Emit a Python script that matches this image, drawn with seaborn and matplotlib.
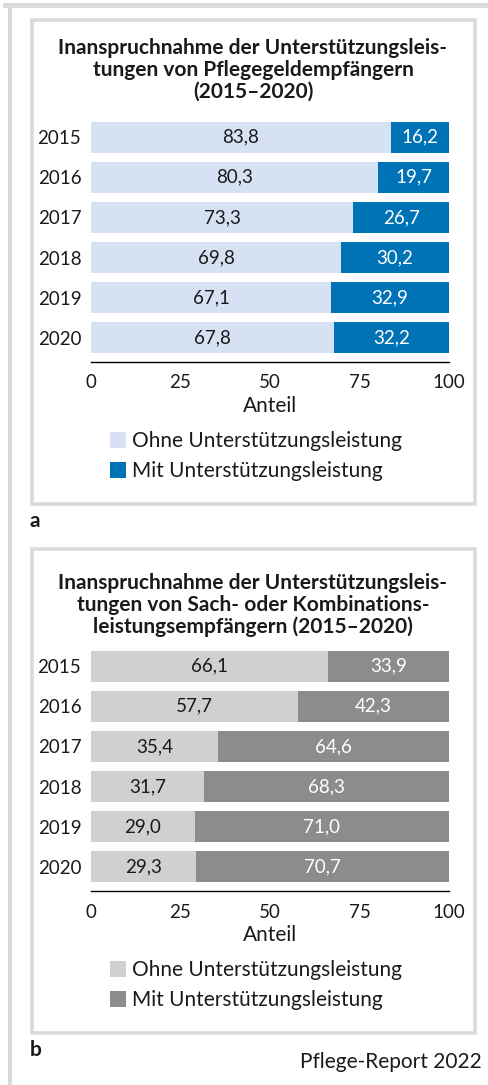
import matplotlib.pyplot as plt
import seaborn as sns
from matplotlib.patches import Rectangle

YEARS = ["2015", "2016", "2017", "2018", "2019", "2020"]
OHNE_A = [83.8, 80.3, 73.3, 69.8, 67.1, 67.8]
MIT_A = [16.2, 19.7, 26.7, 30.2, 32.9, 32.2]
OHNE_B = [66.1, 57.7, 35.4, 31.7, 29.0, 29.3]
MIT_B = [33.9, 42.3, 64.6, 68.3, 71.0, 70.7]
XTICKS = [0, 25, 50, 75, 100]

TITLE_A = "Inanspruchnahme der Unterstützungsleis-\ntungen von Pflegegeldempfängern\n(2015–2020)"
TITLE_B = ("Inanspruchnahme der Unterstützungsleis-\ntungen von Sach- oder Kombinations-\n"
           "leistungsempfängern (2015–2020)")
LEGEND = ["Ohne Unterstützungsleistung", "Mit Unterstützungsleistung"]

BLUE = ("#d6e1f3", "#0072b6")
GREY = ("#cfd0d0", "#8c8c8c")
FRAME = "#dadada"

W, H = 488, 1085
FONT_TXT = 15
FONT_NUM = 13.5
FONT_TITLE = 15


def fmt(v):
    return f"{v:.1f}".replace(".", ",")


def px_axes(fig, left, top, right, bottom):
    return fig.add_axes([left / W, 1 - bottom / H, (right - left) / W, (bottom - top) / H])


def fig_rect(fig, x0, y0, x1, y1, **kw):
    fig.add_artist(Rectangle((x0 / W, 1 - y1 / H), (x1 - x0) / W, (y1 - y0) / H,
                             transform=fig.transFigure, **kw))


def draw_panel(fig, top, title_y, title, ohne, mit, colors, letter):
    light, dark = colors
    # box
    fig_rect(fig, 31.5, top + 2, 474.5, top + 486, fill=False, edgecolor=FRAME, linewidth=2.6)
    fig.text(253 / W, 1 - title_y / H, title, ha="center", va="center", fontsize=FONT_TITLE,
             fontweight="bold", linespacing=1.1)

    ax = px_axes(fig, 91, top + 99, 449, top + 344)
    totals = [o + m for o, m in zip(ohne, mit)]
    sns.barplot(x=totals, y=YEARS, orient="h", color=dark, saturation=1, width=0.77,
                linewidth=0, ax=ax, label=LEGEND[1])
    sns.barplot(x=ohne, y=YEARS, orient="h", color=light, saturation=1, width=0.77,
                linewidth=0, ax=ax, label=LEGEND[0])
    for i, (o, m) in enumerate(zip(ohne, mit)):
        ax.text(o / 2, i, fmt(o), ha="center", va="center", fontsize=FONT_NUM, color="#1a1a1a")
        ax.text(o + m / 2, i, fmt(m), ha="center", va="center", fontsize=FONT_NUM, color="white")

    ax.set_xlim(0, 100)
    ax.set_ylim(5.6, -0.5)
    ax.set_xticks(XTICKS)
    ax.set_xlabel("Anteil", fontsize=FONT_TXT, labelpad=3)
    ax.set_ylabel("")
    for s in ["top", "right", "left"]:
        ax.spines[s].set_visible(False)
    ax.spines["bottom"].set_linewidth(1.0)
    ax.spines["bottom"].set_color("black")
    ax.tick_params(axis="x", length=5, width=1, color="black", labelsize=FONT_NUM, pad=4)
    ax.tick_params(axis="y", length=0, labelsize=FONT_NUM, pad=7)
    if ax.get_legend():
        ax.get_legend().remove()

    handles, labels = ax.get_legend_handles_labels()
    order = [labels.index(LEGEND[0]), labels.index(LEGEND[1])]
    fig.legend([handles[i] for i in order], [labels[i] for i in order],
               loc="upper left", bbox_to_anchor=(110 / W, 1 - (top + 413) / H),
               frameon=False, fontsize=FONT_TXT, handlelength=0.78, handleheight=0.78,
               handletextpad=0.3, labelspacing=0.5, borderpad=0, borderaxespad=0)

    fig.text(30 / W, 1 - (top + 503) / H, letter, ha="left", va="center", fontsize=FONT_TXT,
             fontweight="bold")


sns.set_style("white")
plt.rcParams["font.family"] = ["Lato", "DejaVu Sans"]
plt.rcParams["text.color"] = "#1a1a1a"
plt.rcParams["xtick.color"] = "#1a1a1a"
plt.rcParams["ytick.color"] = "#1a1a1a"
plt.rcParams["axes.labelcolor"] = "#1a1a1a"

fig = plt.figure(figsize=(W / 100, H / 100), dpi=100)
fig_rect(fig, 3, 3, W, 8, color=FRAME, linewidth=0)
fig_rect(fig, 8, 8, 12, H, color=FRAME, linewidth=0)

draw_panel(fig, 18, 70, TITLE_A, OHNE_A, MIT_A, BLUE, "a")
draw_panel(fig, 547, 605, TITLE_B, OHNE_B, MIT_B, GREY, "b")

fig.text(482 / W, 1 - 1062 / H, "Pflege-Report 2022", ha="right", va="center", fontsize=FONT_TXT)

fig.savefig("out.png", dpi=100, facecolor="white")
